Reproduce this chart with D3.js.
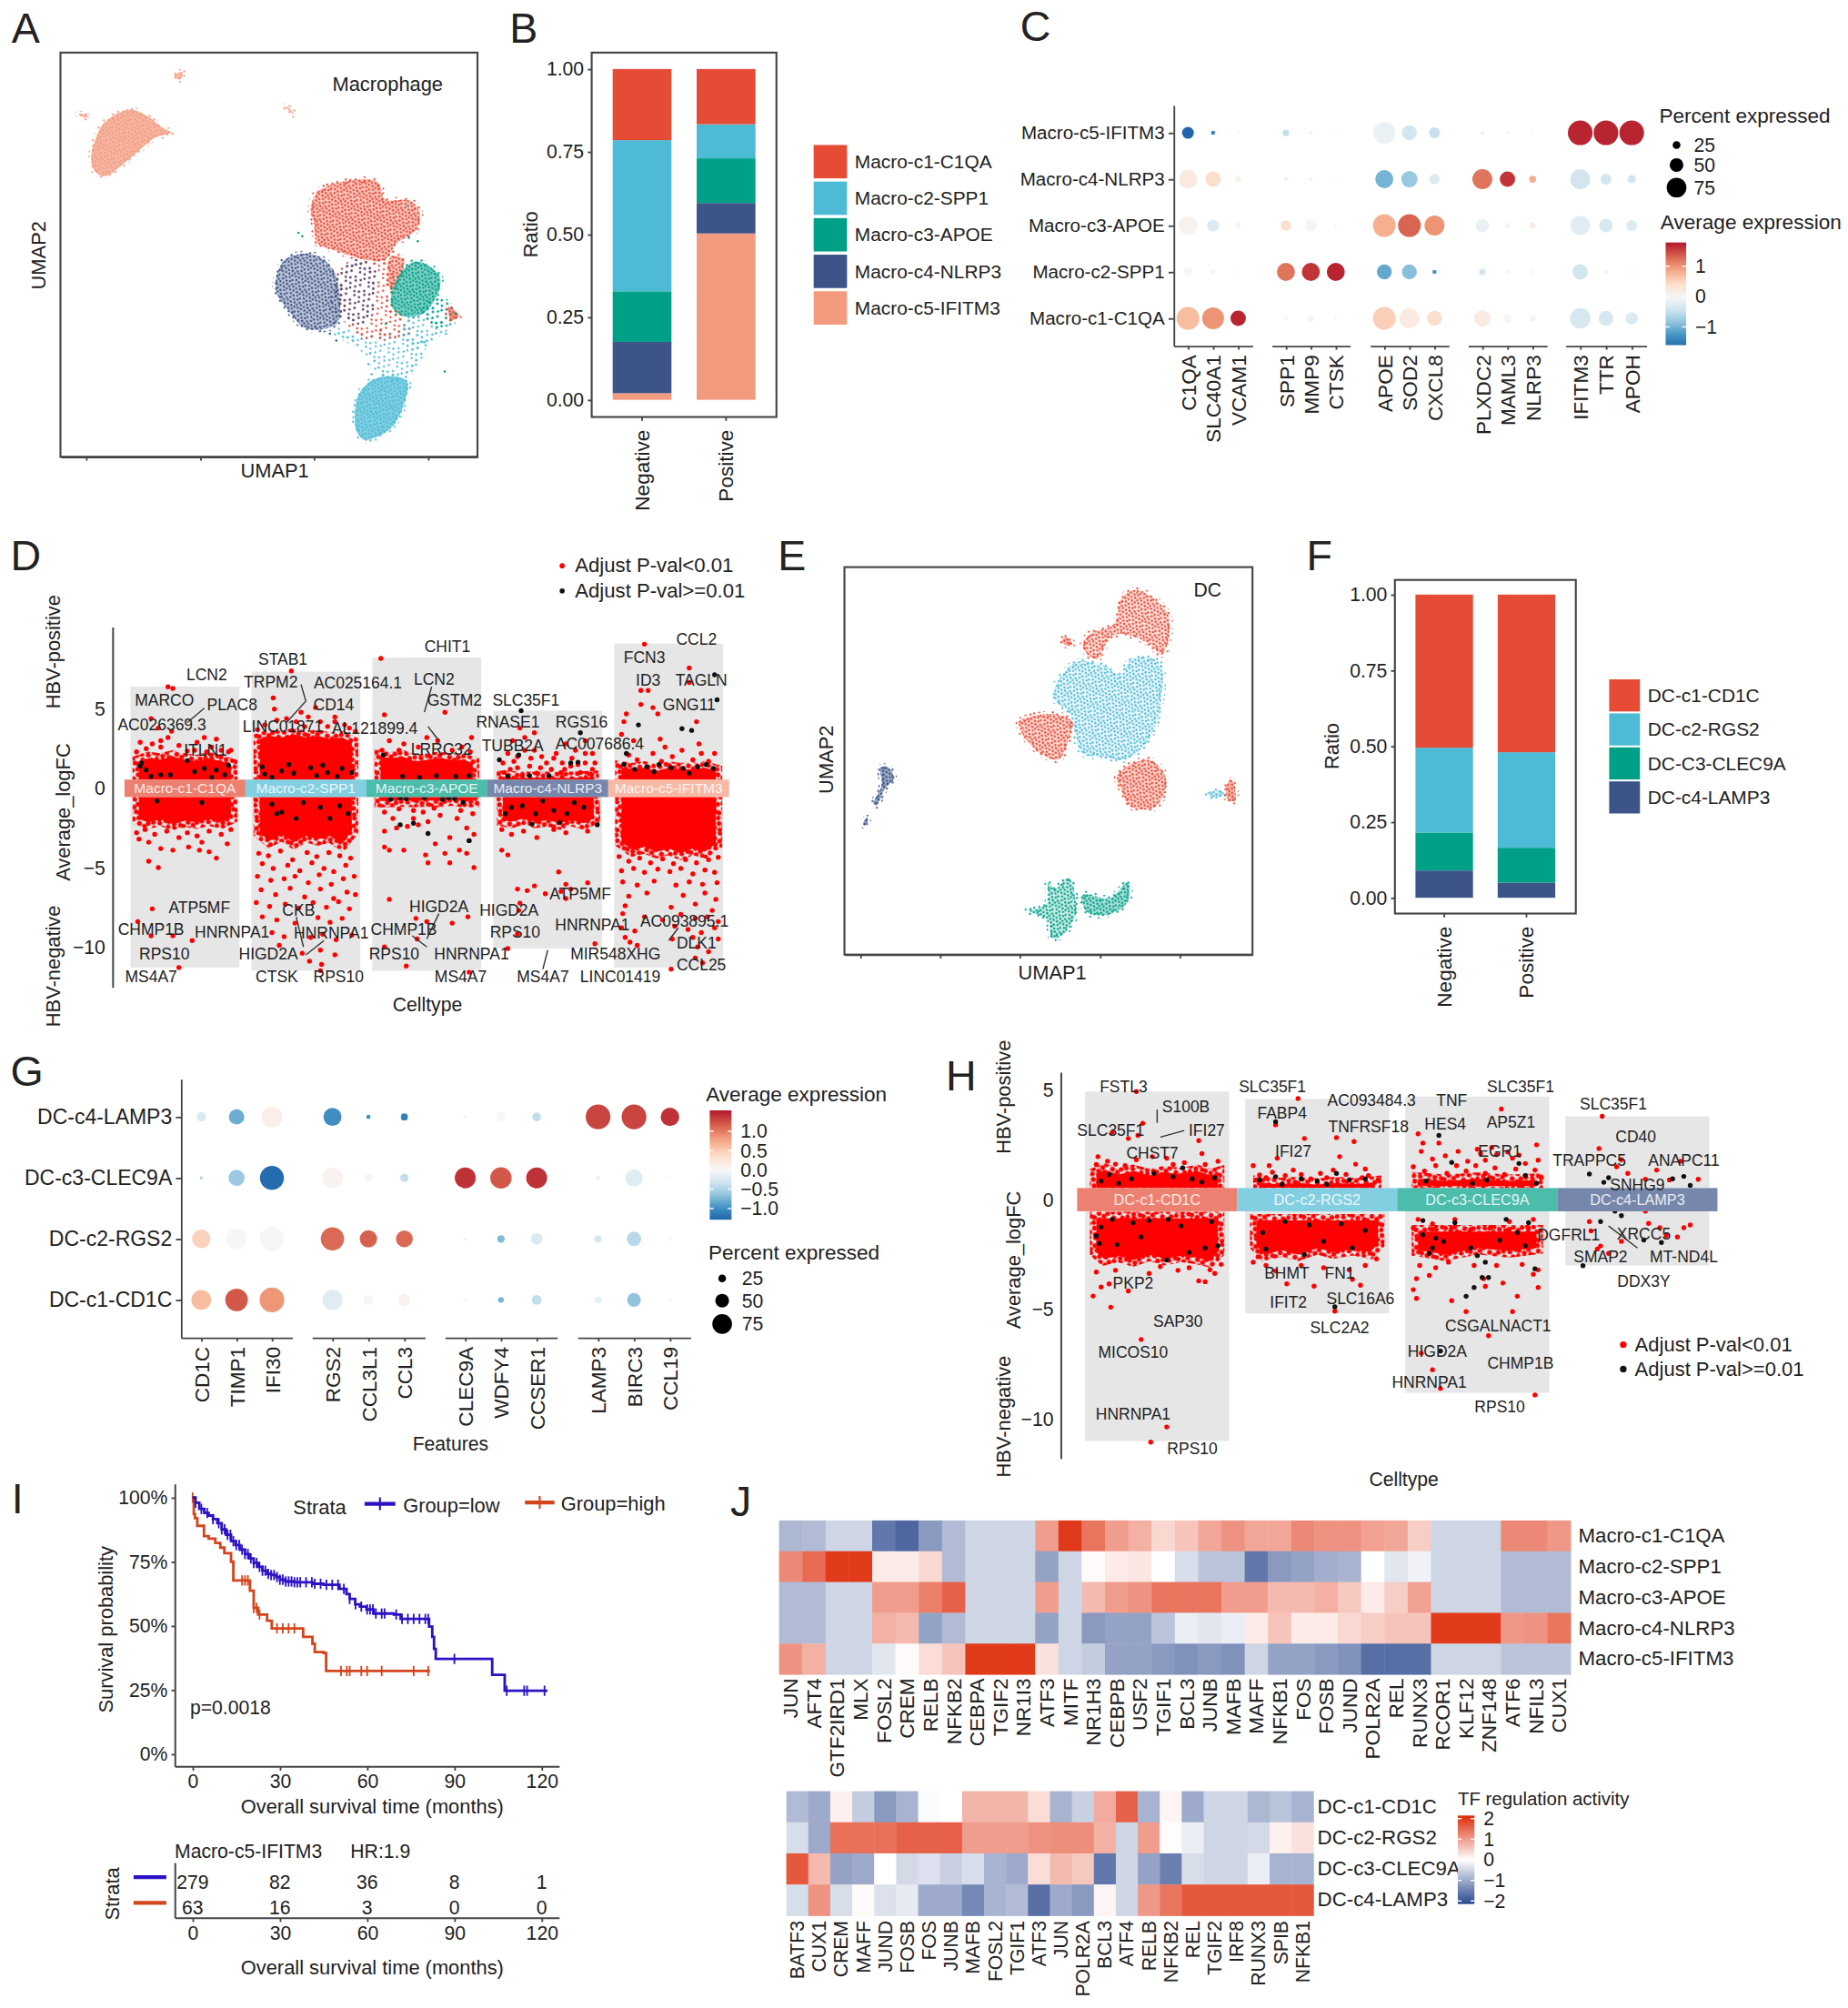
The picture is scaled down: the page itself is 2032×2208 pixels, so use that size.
<!DOCTYPE html>
<html>
<head>
<meta charset="utf-8">
<script src="https://cdn.jsdelivr.net/npm/d3@7"></script>
<style>
  body { margin: 0; background: #fff; }
  svg text { font-family: "Liberation Sans", Arial, sans-serif; fill: #222; }
</style>
</head>
<body>
<div id="fig"></div>
<script>
// ---------- shared data ----------
var npg = ["#E64B35", "#4DBBD5", "#00A087", "#3C5488", "#F39B7F"];
var macroTypes = ["Macro-c1-C1QA", "Macro-c2-SPP1", "Macro-c3-APOE", "Macro-c4-NLRP3", "Macro-c5-IFITM3"];
var dcTypes = ["DC-c1-CD1C", "DC-c2-RGS2", "DC-c3-CLEC9A", "DC-c4-LAMP3"];
var dcLegend = ["DC-c1-CD1C", "DC-c2-RGS2", "DC-C3-CLEC9A", "DC-c4-LAMP3"];

// B / F stacked ratios (order c1..cN)
var macroNeg = [0.215, 0.457, 0.153, 0.155, 0.02];
var macroPos = [0.167, 0.103, 0.135, 0.092, 0.503];
var dcNeg = [0.505, 0.28, 0.125, 0.09];
var dcPos = [0.52, 0.315, 0.115, 0.05];

// A: UMAP outlines, axis is unitless so values are read on the panel's own grid
var aRegionCluster = [4, 4, 4, 4, 0, 0, 3, 2, 1, 1, 0, 3, 1, 2, 0];
var aRegionSparse = [0, 0, 0, 0, 0, 0, 0, 0, 1, 0, 1, 1, 1, 1, 0];
var aRegionTint = [.72, .6, .6, .6, .32, .3, .34, .5, 0, .7, 0, 0, 0, 0, .5];
var aRegions = [
  [[15,51],[14.3,47],[15,41],[16.5,36],[20.5,32.5],[23.5,35],[25.5,38],[26.8,39.2],[24,41],[21.5,45],[19,49],[16.5,52.2]],
  [[12.2,33.8],[13.2,33.8],[14,34.8],[13,34.6]],
  [[27.2,22.5],[28.5,21.2],[28.2,23.5]],
  [[44.5,31.5],[46,34],[45.2,32]],
  [[48.5,62],[49.5,57],[53,54],[59,54],[60,59],[64,59.5],[65.5,63],[65,68],[62,72],[60,77],[57,77],[52,74],[49.5,72],[49,66]],
  [[61,76],[63,77],[62,84],[61,86],[60.5,82]],
  [[43,85.5],[44.5,77],[49,75.5],[52,80],[53,87],[52.5,96],[48,97.5],[45,92]],
  [[61,90],[62.5,81],[65,77.5],[68.5,81.5],[68.5,86],[66,93],[62.5,93.5]],
  [[52,98],[58,100],[64,98.5],[66,102],[64,110],[61,113],[59,110],[57,104]],
  [[56,129],[55.5,127],[56,117],[59,112],[63.5,113],[63,120],[61,127],[57,130.5]],
  [[53,88],[54,79],[61,79],[60.5,90],[64,98],[56,99]],
  [[52,92],[55,78],[58,80],[57,95]],
  [[63,96],[69,91],[71,94],[67,101],[65,104]],
  [[66,92],[69,89],[71,94],[68,96]],
  [[70,91],[71.6,93.5],[70.4,95]]
];
var aStrayX = [46.6,47.2,63.8,65.2,63.5,69.4,57.5,58,60.2,59.4,51.5,52.5,69.6,71,68.2,66.2];
var aStrayY = [69,70,70.5,71.5,61,110.2,108,111,96,98,99,101,99,93,97,101.5];
var aStrayC = [2,2,2,2,1,2,1,1,2,0,3,3,1,2,2,1];

// E: UMAP outlines
var eRegionCluster = [0, 0, 1, 0, 0, 3, 3, 1, 0, 2, 2];
var eRegionTint = [.18, .4, .1, .22, .25, .5, .5, .2, .4, .2, .34];
var eRegions = [
  [[51.5,20],[53.5,17],[56.5,20],[58.5,26],[57.5,37.5],[55.5,34],[52,31],[50,32],[48,39],[46,35],[47,31],[50.5,28]],
  [[43.5,32],[44.5,34],[44,34.8],[43,33.5]],
  [[42,48],[45,40],[49,41],[51.5,44],[53,39],[57,40],[57,56],[55,66],[52,71],[49,70],[46,69],[44,56],[42,52]],
  [[36.8,59],[42,56.5],[44.5,59],[44,64],[42.5,71],[40,69],[38,65]],
  [[51,76],[55.5,71],[58,77],[56.5,86],[53,86],[51.5,80]],
  [[16.8,73.5],[18,73.5],[18.7,77],[17.5,80],[16.2,85.5],[15.8,85],[17,79]],
  [[14.3,91.5],[14.8,89.5],[15,90],[14.5,92]],
  [[64,81.5],[66,81],[66.5,82],[64.8,83]],
  [[66.8,79],[67.5,77.5],[68,84],[67,83.8]],
  [[38,119],[39.5,118.5],[41,116],[41,110],[42,112],[44,108.5],[45,116],[45,120],[43,127],[41.5,127.5],[41,122]],
  [[46,114],[50,115],[52.5,110],[52.5,116],[50,120],[47,120],[46,117]]
];

// C: dot plot
var cRows = ["Macro-c5-IFITM3", "Macro-c4-NLRP3", "Macro-c3-APOE", "Macro-c2-SPP1", "Macro-c1-C1QA"];
var cGenes = [["C1QA", "SLC40A1", "VCAM1"], ["SPP1", "MMP9", "CTSK"], ["APOE", "SOD2", "CXCL8"], ["PLXDC2", "MAML3", "NLRP3"], ["IFITM3", "TTR", "APOH"]];
var cPct = [
  [42,10,6, 20,8,3, 84,55,38, 7,5,5, 96,96,96],
  [70,57,20, 8,10,3, 68,61,36, 76,57,22, 76,38,27],
  [70,42,15, 36,42,6, 88,88,76, 50,15,20, 74,50,38],
  [30,15,6, 68,68,68, 55,55,10, 20,8,6, 57,10,5],
  [88,84,57, 10,22,6, 88,76,55, 61,30,22, 78,55,44]
];
var cExpr = [
  [-1.7,-1.4,-0.05, -0.5,-0.1,-0.05, -0.15,-0.4,-0.5, -0.2,-0.05,-0.05, 1.7,1.7,1.7],
  [0.2,0.4,0.1, -0.2,-0.05,0, -1.0,-0.8,-0.3, 1.2,1.6,0.8, -0.4,-0.4,-0.4],
  [0.1,-0.3,-0.05, 0.4,0.05,0, 0.8,1.3,1.0, -0.15,-0.05,0.15, -0.25,-0.35,-0.3],
  [-0.02,-0.02,0, 1.2,1.6,1.7, -1.1,-0.9,-1.3, -0.4,-0.05,-0.05, -0.4,-0.03,-0.03],
  [0.7,1.0,1.7, 0.02,-0.05,0, 0.55,0.2,0.4, 0.2,0.02,-0.05, -0.35,-0.35,-0.3]
];

// G: dot plot
var gRows = ["DC-c4-LAMP3", "DC-c3-CLEC9A", "DC-c2-RGS2", "DC-c1-CD1C"];
var gGenes = [["CD1C", "TIMP1", "IFI30"], ["RGS2", "CCL3L1", "CCL3"], ["CLEC9A", "WDFY4", "CCSER1"], ["LAMP3", "BIRC3", "CCL19"]];
var gPct = [
  [31,57,80, 68,10,22, 8,35,29, 96,96,70],
  [5,60,93, 80,22,27, 80,82,80, 10,65,5],
  [70,80,95, 90,65,63, 8,24,41, 22,53,10],
  [75,87,96, 78,35,41, 8,17,33, 22,50,5]
];
var gExpr = [
  [-0.25,-0.8,0.12, -1.0,-1.0,-1.1, -0.03,0.0,-0.4, 1.3,1.3,1.4],
  [-0.5,-0.6,-1.25, 0.05,-0.05,-0.4, 1.4,1.2,1.4, -0.1,-0.2,0.0],
  [0.45,0.02,0.02, 1.1,1.15,1.1, -0.05,-0.7,-0.25, -0.3,-0.45,-0.02],
  [0.6,1.2,0.85, -0.2,0.03,0.08, -0.02,-0.75,-0.4, -0.15,-0.65,-0.02]
];

// D: volcano, points are [offset inside cluster, logFC]
var dGrayTop = [6.41, 7.36, 8.24, 4.9, 9.13];
var dGrayBottom = [-11.3, -11.5, -11.5, -10.1, -11.3];
var dBandUp = [
  [[-.38,1.7],[-.3,1.9],[-.2,1.8],[-.1,2.0],[0,1.8],[.1,1.7],[.2,1.9],[.3,1.7],[.38,1.5]],
  [[-.38,3.1],[-.3,3.3],[-.2,3.2],[-.1,3.4],[0,3.2],[.1,3.3],[.2,3.1],[.3,3.2],[.38,2.9]],
  [[-.38,2.0],[-.3,1.9],[-.2,2.0],[-.1,1.7],[0,1.8],[.1,1.9],[.2,1.8],[.3,1.8],[.38,1.6]],
  [[-.37,.7],[-.2,.65],[0,.65],[.2,.65],[.37,.7]],
  [[-.39,1.3],[-.3,1.2],[-.2,1.3],[-.1,1.1],[0,1.3],[.1,1.2],[.2,1.2],[.3,1.3],[.39,1.1]]
];
var dBandDown = [
  [[-.38,-1.95],[-.3,-2.15],[-.2,-1.95],[-.1,-2.25],[0,-2.05],[.1,-2.15],[.2,-1.95],[.3,-2.15],[.38,-1.85]],
  [[-.38,-2.8],[-.3,-3.3],[-.2,-2.9],[-.1,-3.4],[0,-3],[.1,-3.2],[.2,-3],[.3,-3.5],[.38,-2.7]],
  [[-.38,-.8],[-.3,-.8],[-.2,-.75],[-.1,-.8],[0,-.75],[.1,-.8],[.2,-.7],[.3,-.8],[.38,-.8]],
  [[-.37,-2],[-.3,-2.1],[-.2,-1.9],[-.1,-2.1],[0,-2],[.1,-2.2],[.2,-2],[.3,-2.2],[.38,-1.9]],
  [[-.39,-3.4],[-.3,-3.9],[-.2,-3.7],[-.1,-4],[0,-3.8],[.1,-4.1],[.2,-3.8],[.3,-4],[.39,-3.5]]
];
var dSig = [
  [[-.14,6.4],[-.1,6.3],[-.28,4.4],[-.11,3.6],[-.14,3.2],[-.22,3.8],[-.37,2.9],[-.2,3.0],[.16,3.2],[.26,3.1],[.38,2.4],[.36,2.3],[-.32,2.5],[-.2,2.6],[.08,2.4],[-.05,2.7],[.1,2.9],[.22,2.6],[-.4,2.3],[.3,2.4],[-.27,2.8],[.02,2.35],[.18,2.3],
   [-.38,-3.2],[-.3,-3.4],[-.2,-3.8],[-.1,-3.9],[.03,-3.7],[.12,-3.9],[.2,-4.0],[.26,-4.4],[.35,-3.5],[-.05,-3.1],[.1,-3.0],[-.25,-2.9],[.3,-2.9],[-.3,-4.6],[-.22,-5.0],[-.27,-7.6],[-.39,-8.4],[-.28,-9.3],[-.1,-9.3],[.06,-9.6],[-.05,-11.3],[-.4,-2.8],[-.15,-2.7],[.02,-2.8],[.2,-2.7],[.38,-2.6],[.14,-3.4],[-.33,-2.6]],
  [[-.12,7.4],[-.27,5.7],[.24,4.5],[-.26,5.0],[-.04,4.8],[.08,5.1],[.24,4.2],[-.16,4.4],[.32,4.0],[.12,4.2],[-.34,4.0],[-.08,4.2],[.02,4.5],[.36,3.8],[-.24,4.3],[-.4,3.7],[.18,3.9],[.41,3.6],[-.01,3.9],
   [-.39,-4.1],[-.31,-4.25],[-.21,-3.95],[-.11,-4.5],[.01,-4.05],[.09,-4.3],[.19,-4.05],[.28,-4.25],[.37,-4.4],[-.36,-4.75],[-.27,-5.05],[-.15,-4.85],[-.05,-5.2],[.05,-4.7],[.15,-5.05],[.23,-5.25],[.33,-4.85],[-.4,-5.55],[-.29,-5.8],[-.18,-5.7],[-.09,-5.55],[.02,-5.95],[.11,-5.45],[.21,-6.05],[.31,-5.7],[.4,-5.55],
   [-.37,-6.4],[-.25,-6.7],[-.13,-6.3],[-.01,-6.85],[.12,-6.35],[.23,-6.95],[.34,-6.55],[.41,-6.7],[-.41,-7.2],[-.3,-7.45],[-.17,-7.3],[-.06,-7.55],[.06,-7.2],[.17,-7.5],[.27,-7.15],[.36,-7.6],[-.36,-8.1],[-.24,-8.3],[-.09,-8.5],[.1,-8.15],[.2,-8.45],[.3,-8.2],[-.28,-9.1],[-.18,-9.35],[.04,-9.4],[.14,-9.2],[.25,-9.55],[.38,-9.25],[-.03,-10.4],[.12,-10.2],[.24,-10.5],[.13,-11.1],[.12,-11.5],[.03,-10.9],[-.22,-9.9]],
  [[-.38,8.19],[-.35,4.64],[.15,4.79],[0,3.2],[.37,3.2],[-.31,3.0],[-.19,2.8],[-.07,2.6],[.09,3],[.21,2.4],[.29,2.6],[-.37,2.4],[-.23,2.4],[.36,2.3],
   [-.35,-2.7],[-.31,-3.9],[-.35,-3.7],[-.25,-2.5],[-.19,-3.9],[-.11,-1.9],[-.03,-1.5],[-.07,-2.3],[.01,-2.1],[.07,-3.5],[.11,-1.7],[.19,-3.1],[.15,-4.1],[.19,-4.7],[.01,-4.7],[-.01,-4.2],[.33,-2.5],[.35,-3.3],[.33,-4.1],[.39,-5],[.27,-3.9],[.25,-1.9],[-.23,-1.3],[-.35,-1.5],[.39,-2.9],[-.11,-1.4],[.06,-1.25],[.28,-1.4],[.38,-1.6],[-.28,-1.9],[-.16,-2.4],
   [-.31,-7],[-.09,-8.2],[.21,-8.5],[.34,-8.1],[-.08,-9.5],[-.35,-10],[-.17,-11.2],[0,-8.4],[.35,-11.6]],
  [[-.11,3.5],[-.23,3.8],[-.19,3.2],[-.29,3],[-.11,2.4],[-.33,2.2],[-.25,2],[-.05,2],[.07,2.2],[.15,2.8],[.23,2.4],[.31,3],[.37,2.2],[.39,1.6],[.31,1.6],[.19,1.4],[.03,1.2],[-.15,1.4],[-.31,1.2],[-.33,.8],[-.21,.8],[-.09,.95],[.11,1],[.27,1],[.35,.9],[-.19,2.4],[-.01,1.6],[-.25,1.3],[.2,1.9],[-.37,1.6],[.14,1.2],[.31,2.2],[-.28,1.7],[-.14,1.9],[.05,1.9],[.25,1.5],[.37,1.2],[-.06,1.3],[.12,1.6],[-.36,1.0],
   [-.38,-3.9],[-.33,-4.2],[-.3,-2.9],[-.09,-3.1],[.15,-2.8],[-.38,-2.6],[.05,-2.6],[.33,-2.7],[-.2,-2.7],[-.25,-6.35],[-.11,-6.15],[-.17,-6.45],[-.02,-6.65],[.09,-5.27],[.15,-6.05],[.15,-6.95],[.19,-6.35],[.33,-5.96],[-.23,-7.24],[-.33,-10.1],[.39,-9.8],[-.25,-9.2],[-.24,-7.7],[.11,-6.5]],
  [[-.2,9.09],[.17,7.59],[.17,6.67],[-.23,6.17],[-.17,6.17],[-.23,5.29],[-.13,5.09],[-.09,4.69],[-.35,4.69],[-.37,4.2],[.23,4.2],[-.39,3.4],[-.07,3.1],[.25,2.8],[-.29,3],[-.03,2.6],[.38,2.2],[.03,2],[-.33,2.1],[-.13,2.2],[.27,2.2],[.11,2.4],[.2,1.8],[-.26,1.8],[.33,1.7],[-.06,1.7],
   [-.41,-4.3],[-.33,-4.6],[-.24,-4.4],[-.15,-4.7],[-.05,-4.45],[.04,-4.75],[.14,-4.5],[.23,-4.7],[.33,-4.5],[.41,-4.35],[-.39,-5.2],[-.29,-5.05],[-.2,-5.3],[-.09,-5.1],[.01,-5.25],[.1,-5.05],[.2,-5.4],[.3,-5.15],[.38,-5.3],[-.38,-5.9],[-.26,-6.1],[-.12,-5.85],[.06,-6.1],[.17,-5.9],[.28,-6.05],[.4,-5.95],[-.33,-6.8],[-.18,-6.6],[.12,-6.75],[.3,-6.6],[.39,-7],[-.36,-7.4],[.02,-7.5],[.22,-7.3],[.36,-7.7],
   [-.38,-7.9],[-.2,-8.1],[-.05,-8.3],[.1,-7.95],[.22,-8.2],[.32,-8.1],[.41,-8.4],[-.39,-8.8],[-.28,-9.0],[.05,-8.7],[.16,-8.9],[.27,-9.1],[.38,-8.8],[-.36,-9.4],[-.32,-9.7],[-.26,-9.9],[.03,-9.5],[.2,-9.4],[.41,-9.5],[.24,-10.0],[.33,-10.3],[.22,-10.7],[.02,-11.4],[.28,-11.0]]
];
var dNs = [
  [[-.37,1.4],[-.36,1.6],[-.2,.85],[.16,1.25],[.26,1.15],[.36,1.45],[-.32,1.15],[-.12,.85],[.08,1.05],[.02,1.75],[-.23,-.8],[.14,-.9],[-.28,.75],[.33,.85],[.22,.7]],
  [[-.34,.9],[-.2,1.1],[-.1,.95],[.04,1.3],[.18,1.0],[.3,1.25],[.38,1.0],[.09,.8],[-.28,.7],[-.28,-1.0],[-.2,-1.5],[-.02,-.9],[.12,-1.2],[.28,-1.1],[.35,-1.6],[-.24,-1.6],[-.14,1.5],[.14,1.45],[.26,.75],[-.36,1.35],[-.08,-1.9],[.2,-1.9]],
  [[-.36,2.1],[-.2,.75],[-.06,.7],[.08,.8],[.24,.75],[.35,.8],[-.22,-.6],[-.17,-.65],[-.02,-.6],[.13,-.7],[.18,-.6],[.23,-.65],[-.22,-2.3],[-.11,-2.2],[.01,-2.85],[.35,-3.3],[.3,-.9],[-.3,-.7]],
  [[-.22,4.9],[.27,3.5],[-.4,1.8],[-.24,2.1],[-.15,.8],[.01,.8],[.19,1.6],[.25,1.65],[-.33,.75],[-.21,-1.1],[-.1,-1.6],[-.35,-1.6],[.05,-1.4],[.16,-1.6],[.41,-2.3],[.1,-2.15],[-.13,-2.25],[-.3,-1.2],[.3,-1.2],[.22,-.9],[-.04,-.8]],
  [[.38,7.16],[-.25,4],[.11,3.76],[.19,3.65],[.4,5.58],[-.35,2.2],[-.37,1.5],[-.28,1.2],[-.18,1.35],[-.08,1.5],[.02,1.3],[.12,1.25],[.24,1.35],[.31,1.5],[.37,1.25],[-.12,1.05],[.17,.95]]
];
var dLabels = ["LCN2","MARCO","PLAC8","AC026369.3","ITLN1","STAB1","TRPM2","AC025164.1","CD14","LINC01871","AL121899.4","CHIT1","LCN2","GSTM2","LRRC32","SLC35F1","RNASE1","RGS16","TUBB2A","AC007686.4","CCL2","FCN3","ID3","TAGLN","GNG11","ATP5MF","CHMP1B","HNRNPA1","RPS10","MS4A7","CKB","HNRNPA1","HIGD2A","CTSK","RPS10","HIGD2A","CHMP1B","RPS10","HNRNPA1","MS4A7","HIGD2A","RPS10","ATP5MF","HNRNPA1","MS4A7","MIR548XHG","LINC01419","AC093895.1","DLK1","CCL25"];
var dLabelX = [.18,-.17,.39,-.19,.17,.81,.71,1.43,1.23,.81,1.57,2.17,2.06,2.23,2.12,2.82,2.67,3.28,2.71,3.43,4.23,3.8,3.83,4.27,4.17,.12,-.28,.39,-.17,-.28,.94,1.21,.69,.76,1.27,2.1,1.81,1.73,2.37,2.28,2.68,2.73,3.27,3.37,2.96,3.56,3.6,4.13,4.23,4.27];
var dLabelY = [7.16,5.54,5.25,4,2.39,8.15,6.69,6.67,5.25,3.87,3.81,8.93,6.86,5.54,2.47,5.58,4.16,4.2,2.68,2.82,9.43,8.28,6.8,6.8,5.29,-7.5,-8.88,-9.07,-10.45,-11.87,-7.67,-9.11,-10.45,-11.87,-11.87,-7.44,-8.88,-10.45,-10.45,-11.87,-7.67,-9.07,-6.65,-8.62,-11.87,-10.45,-11.87,-8.38,-9.76,-11.12];
var dConnectors = [
  [[.16,5.05],[.02,4.15]], [[.96,6.55],[1.0,5.5],[.84,4.15]], [[2.04,6.4],[1.98,4.8]], [[2.01,3.9],[2.1,3.0]],
  [[.92,-8.1],[.98,-10.0]], [[1.15,-9.6],[1.0,-10.5]], [[2.1,-7.9],[2.0,-9.5]], [[1.88,-9.3],[2.0,-10.0]],
  [[3.0,-10.2],[2.96,-11.4]], [[4.08,-8.8],[4.0,-9.6]]
];

// H: volcano, points are [position on the cluster axis, logFC]
var hGrayTop = [4.93, 4.59, 4.7, 3.8];
var hGrayBottom = [-11.0, -5.18, -8.8, -3.0];
var hBandUp = [
  [[-.38,1.2],[-.33,1.35],[-.24,1.15],[-.15,1.3],[-.05,1.1],[.05,1.25],[.15,1.15],[.25,1.3],[.33,1.1],[.38,1.2]],
  [[-.36,.78],[-.25,.7],[-.12,.75],[0,.68],[.12,.75],[.25,.7],[.36,.78]],
  [[-.37,.95],[-.2,.85],[0,.95],[.2,.85],[.37,.9]]
];
var hBandDown = [
  [[-.38,-2.4],[-.33,-2.7],[-.24,-2.55],[-.15,-2.75],[-.05,-2.5],[.05,-2.7],[.15,-2.55],[.25,-2.65],[.33,-2.8],[.38,-2.4]],
  [[-.38,-2.1],[-.33,-2.5],[-.22,-2.3],[-.12,-2.5],[0,-2.2],[.1,-2.4],[.22,-2.25],[.33,-2.4],[.38,-2]],
  [[-.37,-2.3],[-.2,-2.5],[0,-2.2],[.2,-2.35],[.37,-2.2]]
];
var hBandUpStart = [.55, .55, .62];
var hBandDownStart = [-.85, -.95, -1.45];
var hSig = [
  [[-.13,4.93],[-.09,3.48],[-.28,3.07],[-.18,2.79],[-.12,2.93],[.26,2.69],[-.37,1.96],[-.26,1.62],[.06,1.89],[.28,2.1],[.17,1.69],[.38,1.75],[-.13,1.82],[-.03,1.96],[-.31,1.75],[-.2,1.55],[.1,1.6],[.3,1.6],[-.38,1.6],
   [-.4,-4.39],[-.35,-3.98],[-.29,-4.9],[-.3,-3.84],[-.18,-4.16],[-.1,-6.37],[.06,-10.36],[-.04,-11.05],[.26,-3.7],[.3,-3.74],[.36,-3.36],[.13,-3.22],[-.05,-3.36],[-.26,-3.22],[-.38,-3.3],[.2,-3.1],[.33,-3.2],[.4,-2.95],[.02,-3.05]],
  [[.88,4.61],[.74,3.41],[1.12,2.83],[1.23,2.65],[.92,2.79],[.75,1.89],[1.14,1.96],[1.24,1.62],[.6,1.55],[.64,1.13],[.85,1.35],[.68,1.0],[.8,1.1],[.96,.95],[1.02,1.2],[1.1,1.35],[1.18,1.15],[1.3,1.4],[1.32,1.1],[1.38,.9],[.62,.9],[.72,1.25],[.9,1.15],[1.06,1.0],[1.28,1.0],[.7,1.55],
   [.81,-3.84],[.98,-3.94],[1.22,-3.63],[1.11,-5.08],[1.2,-3.2],[.68,-3.0],[.74,-3.25],[.6,-2.85],[.9,-3.0],[1.04,-3.1],[1.3,-3.0],[1.37,-2.7],[1.27,-3.9],[.63,-2.6]],
  [[2.15,4.13],[1.63,3.0],[1.66,2.58],[1.76,2.58],[2.37,2.5],[2.26,2.03],[2.09,2.38],[2.02,2.1],[2,2.3],[2.19,2.17],[2.22,1.89],[1.65,2.2],[1.72,1.85],[1.8,2.0],[1.88,2.2],[1.94,1.75],[2.05,1.8],[2.12,2.05],[2.3,1.65],[2.38,1.8],
   [1.6,1.5],[1.67,1.3],[1.74,1.55],[1.81,1.2],[1.87,1.55],[1.93,1.3],[1.99,1.55],[2.05,1.2],[2.11,1.45],[2.17,1.15],[2.24,1.4],[2.3,1.1],[2.36,1.35],[2.4,1.0],
   [1.63,-.9],[1.72,-1.1],[1.86,-.9],[2.2,-1.0],[2.35,-.9],[1.6,-1.3],[1.72,-1.35],[1.84,-1.3],[1.96,-1.35],[2.08,-1.3],[2.2,-1.35],[2.32,-1.3],
   [1.64,-3.0],[1.74,-3.1],[1.82,-2.85],[1.98,-3.0],[2.12,-3.0],[2.28,-2.95],[2.38,-3.2],[1.62,-3.6],[1.6,-4.1],[1.62,-4.5],[1.7,-3.45],[2.04,-3.6],[2.05,-3.95],[2.16,-3.8],[2.35,-3.4],[2.38,-4],[2.25,-4.4],[1.84,-4.6],[1.93,-5.1],[2.22,-5.1],[2.07,-6.2],[1.65,-7.0],[1.72,-7.75],[1.77,-8.6],[2.36,-8.9]],
  [[2.78,3.8],[2.76,2.33],[2.9,1.82],[3.27,1.75],[3.05,.93],[3.38,.93],[2.94,1.2],[2.87,1.5],[3.12,1.35],[3.2,.9],
   [3.05,-.52],[2.7,-1.0],[2.71,-1.42],[3.07,-1.08],[3.14,-1.28],[3.18,-1.63],[3.25,-1.7],[3.29,-1.28],[3.33,-1.15],[2.77,-2.11],[2.75,-2.25],[2.9,-1.9],[2.82,-2.45]]
];
var hNs = [
  [[-.3,1.15],[-.16,.95],[-.02,1.2],[.1,1.05],[.22,.95],[-.35,.85],[.36,1.0],[.16,1.45],[-.35,-1.25],[-.28,-.9],[-.15,-1.05],[-.05,-.95],[.07,-.9],[.15,-1.2],[.34,-1.0],[-.38,-1.65],[-.25,-2.05],[.06,-2.75],[.2,-2.4],[-.1,-1.7],[.38,-2.1],[-.36,-2.0],[.3,-2.2],[.28,.8],[-.24,.75]],
  [[.64,.9],[.74,1.05],[.9,.95],[1,.85],[1.12,1.2],[1.2,.9],[1.3,.95],[.8,-1.0],[.95,-1.15],[1.15,-1.1],[1.3,-1.4],[.68,-2.25],[.92,-2.5],[1.11,-4.88],[.74,3.55],[.78,.7],[1.06,.7],[.66,-1.5],[1.04,-1.9],[1.22,-2.2]],
  [[1.76,2.93],[1.84,1.7],[2.26,1.65],[1.97,.75],[1.68,.85],[2.06,.9],[2.3,1.1],[2.37,.75],[1.66,-.95],[1.86,-1.05],[1.74,-1.75],[1.72,-2.2],[1.79,-1.9],[2.18,-.9],[2.32,-1.05],[2.0,-2.55],[2.05,-2.85],[1.96,-2.2],[2.25,-1.5],[2.36,-3.15],[2.38,-.42],[1.98,-4],[2.03,-3.55],[2.07,-3.55],[1.93,-4.4],[1.77,-6.9],[1.66,-1.6],[1.7,-2.45],[2.14,-1.85],[2.3,-2.1]],
  [[2.7,1.17],[2.82,1.0],[2.79,.79],[3.29,1.06],[3.33,.65],[3.22,.95],[2.86,-.52],[2.9,-.73],[2.77,-1.0],[3.04,-1.84],[3.15,-1.95],[2.66,-3.01]]
];
var hLabels = ["FSTL3","S100B","SLC35F1","IFI27","CHST7","PKP2","SAP30","MICOS10","HNRNPA1","RPS10","SLC35F1","FABP4","AC093484.3","TNFRSF18","IFI27","BHMT","FN1","IFIT2","SLC16A6","SLC2A2","TNF","HES4","SLC35F1","AP5Z1","EGR1","CSGALNACT1","HIGD2A","CHMP1B","HNRNPA1","RPS10","SLC35F1","CD40","TRAPPC5","ANAPC11","SNHG9","DGFRL1","XRCC5","SMAP2","MT-ND4L","DDX3Y"];
var hLabelX = [-.21,.18,-.29,.31,-.03,-.15,.13,-.15,-.15,.22,.72,.78,1.34,1.32,.85,.81,1.14,.82,1.27,1.14,1.84,1.8,2.27,2.21,2.14,2.13,1.75,2.27,1.7,2.14,2.85,2.99,2.7,3.29,3,2.57,3.04,2.77,3.29,3.04];
var hLabelY = [5.14,4.24,3.18,3.18,2.13,-3.8,-5.54,-6.95,-9.78,-11.33,5.14,3.96,4.54,3.34,2.2,-3.36,-3.36,-4.67,-4.49,-5.84,4.54,3.45,5.14,3.55,2.2,-5.75,-6.91,-7.47,-8.33,-9.43,4.38,2.89,1.8,1.8,.69,-1.59,-1.56,-2.62,-2.62,-3.7];
var hConnectors = [[[0,4.1],[0,3.5]], [[.02,2.85],[.17,3.15]], [[2.82,-1.2],[3.0,-2.2]]];

// I: survival
var lowT = [0,1,2.3,4,5.5,7,8.5,10,11.5,13.2,14.8,16.3,18,19.4,21,22.5,24,25.6,27,28.8,30,31.9,35,41.2,45,50.5,52.9,54,55.9,57.5,59.8,62.2,69.2,71.5,80,81.3,82.4,83,83.6,103,107.3,122];
var lowS = [100,98,95.6,94,93,91.6,90,87.6,85.5,83,81.5,79.7,78,76.3,74.5,73,71.5,70.3,69.8,69,68,67.3,67,66.4,66,64.4,62.4,60.5,58.4,57.5,56.4,54.8,54.4,52.7,52.7,49.7,45.7,41,37.1,30.9,24.7,24.7];
var lowCensor = [1,3,5,7,9,10,11,12,13,14,15,16,17,18,19,20,21,22,23,24,25,26,27,28,29,30,31,32,33,34,35,36,37,39,41,42,44,46,48,50,52,54,56,58,60,61,62,63,65,66,70,72,74,76,78,80,81,90,108,114,115,121];
var highT = [0,.4,.8,1.6,3.9,5.5,7.8,9.5,10.9,13.2,14,18.7,19.7,21,22.5,25.6,27.2,37.3,38,41.2,42,45,45.9,81.6];
var highS = [100,93.6,92,89,85,84,82.3,80.5,78.3,75,67.7,67.7,63.7,57,54.4,52,49,49,45.7,43,39.8,39.4,32.4,32.4];
var highCensor = [0,17,18,19,21,22,23,29,31,33,35,51,53,54,58,60,65,76,81];
var riskTicks = [0, 30, 60, 90, 120];
var riskLow = [279, 82, 36, 8, 1];
var riskHigh = [63, 16, 3, 0, 0];

// J: TF heatmaps
var jTopGenes = ["JUN","AFT4","GTF2IRD1","MLX","FOSL2","CREM","RELB","NFKB2","CEBPA","TGIF2","NR1I3","ATF3","MITF","NR1H3","CEBPB","USF2","TGIF1","BCL3","JUNB","MAFB","MAFF","NFKB1","FOS","FOSB","JUND","POLR2A","REL","RUNX3","RCOR1","KLF12","ZNF148","ATF6","NFIL3","CUX1"];
var jTopValues = [
  [-.85,-.8,-.5,-.5,-1.6,-1.8,-1.2,-.8,-.5,-.5,-.5,1.0,2,1.4,1,.8,.4,.6,.9,1.1,.9,.9,1.2,1.1,1.1,.95,.9,.5,-.5,-.5,-.5,1.2,1.2,1.05],
  [1.2,1.5,2,2,.2,.2,.4,-.8,-.5,-.5,-.5,-1.1,-.5,.05,.2,.25,0,-.4,-.7,-.7,-1.6,-1.2,-1.1,-.95,-.9,0,-.3,-.15,-.5,-.5,-.5,-.8,-.8,-.8],
  [-.8,-.8,-.5,-.5,1,1,1.3,1.6,-.5,-.5,-.5,1,-.5,.7,1,1.1,1.4,1.4,1.4,1,1,.7,.7,.8,.55,.2,.5,.95,-.5,-.5,-.5,-.8,-.8,-.8],
  [-.8,-.8,-.5,-.5,.8,.7,-1.1,-.8,-.5,-.5,-.5,-1.1,-.5,-1.2,-1.1,-1.1,-.7,-.2,-.3,-.2,.2,.6,.2,.2,.4,.5,.6,.6,2,2,2,1.05,1.1,1.4],
  [1.1,.8,-.5,-.5,-.3,.05,.35,.6,2,2,2,.3,-.5,-.6,-1.1,-1.1,-1.2,-1.3,-1.2,-1.3,-.5,-1.1,-1.1,-1.2,-1.3,-1.7,-1.7,-1.7,-.5,-.5,-.5,-.7,-.7,-.7]
];
var jBottomGenes = ["BATF3","CUX1","CREM","MAFF","JUND","FOSB","FOS","JUNB","MAFB","FOSL2","TGIF1","ATF3","JUN","POLR2A","BCL3","ATF4","RELB","NFKB2","REL","TGIF2","IRF8","RUNX3","SPIB","NFKB1"];
var jBottomValues = [
  [-.8,-1,.15,-.6,-1.2,-.9,-.05,0,.75,.75,.75,.35,-.9,-.55,.85,1.6,-.9,.1,-1,-.5,-.5,-.85,-.7,-.9],
  [-.4,-1,1.45,1.45,1.45,1.6,1.6,1.6,1,1,1,1.1,1.15,1.15,.8,-.5,1,.03,-.2,-.5,-.5,-.45,.15,.3],
  [1.7,.7,-1.1,-1,0,-.45,-.35,-.55,-.4,-.9,-1,.35,.7,.55,-1.6,-.5,-1.1,-1.5,-.4,-.5,-.5,-.2,-.9,-.9],
  [-.4,1.1,-.4,.05,-.35,-.25,-1,-1,-1.4,-.9,-.8,-1.7,-1,-1.2,.1,-.5,1.05,1.4,1.7,1.7,1.7,1.7,1.7,1.7]
];

// ---------- page ----------
var svg = d3.select("#fig").append("svg")
  .attr("width", 2032).attr("height", 2208)
  .attr("viewBox", "0 0 1440 1565");
var defs = svg.append("defs");
var lineColor = "#444";

function label(x, y, s, size, anchor) {
  return svg.append("text").attr("x", x).attr("y", y).attr("dy", "0.35em")
    .attr("font-size", size).attr("text-anchor", anchor || "start").text(s);
}
function vlabel(x, y, s, size, anchor) {
  return svg.append("text").attr("transform", "translate(" + x + "," + y + ") rotate(-90)")
    .attr("dy", "0.35em").attr("font-size", size).attr("text-anchor", anchor || "middle").text(s);
}
function styleAxis(g, size) {
  g.selectAll("path,line").attr("stroke", lineColor).attr("stroke-width", 1.3);
  g.selectAll("text").attr("font-size", size).style("font-family", "Liberation Sans").attr("fill", "#222");
  return g;
}
function rotateTicks(g, gap) {
  g.selectAll("text").attr("transform", "rotate(-90)").attr("text-anchor", "end")
    .attr("x", -gap).attr("y", 0).attr("dy", "0.35em");
}

[["A",9,22],["B",397,22],["C",795,20],["D",8,433],["E",606,433],["F",1018,433],["G",8,835],["H",737,838],["I",9,1168],["J",569,1170]]
  .forEach(function(d) { label(d[1], d[2], d[0], 33).attr("fill", "#111"); });

// speckle fills for the UMAP clouds and the edges of the volcano bands
function speckle(id, size, angle, r, color, spots) {
  var p = defs.append("pattern").attr("id", id).attr("patternUnits", "userSpaceOnUse")
    .attr("width", size).attr("height", size).attr("patternTransform", "rotate(" + angle + ")");
  spots.forEach(function(s) { p.append("circle").attr("cx", s[0]).attr("cy", s[1]).attr("r", r).attr("fill", color); });
}
npg.forEach(function(c, i) {
  speckle("dense" + i, 11, 23, .9, c, [[.8,.7],[3.4,1.6],[6.2,.5],[9,1.9],[1.7,3.6],[4.9,4.1],[7.6,3.4],[10,5.2],[.6,6.4],[3.3,6.7],[6.3,6.3],[8.6,7.4],[1.9,9.1],[4.8,9.2],[7.4,9.6],[10.2,9.3]]);
  speckle("sparse" + i, 13, -31, .85, c, [[1.2,1.4],[5.6,.8],[9.4,2.5],[3.4,4.6],[7.9,5.2],[11.5,6.9],[1.4,7.6],[5.2,8.9],[9.1,10],[2.8,11.6]]);
});
speckle("redSpeck", 12, 17, 1.9, "#FF0000", [[1.5,2],[6.5,1],[10,4],[3.5,6],[7.8,7],[1,10],[5.5,10.5],[10.5,10]]);

function umapPanel(box, xd, yd, ticks, regions, clusters, sparseFlags, tints) {
  var x = d3.scaleLinear().domain(xd).range([box.x0, box.x1]);
  var y = d3.scaleLinear().domain(yd).range([box.y0, box.y1]);
  var line = d3.line().x(function(d) { return x(d[0]); }).y(function(d) { return y(d[1]); })
    .curve(d3.curveCatmullRomClosed.alpha(.5));
  regions.forEach(function(r, i) {
    var c = clusters[i], sp = sparseFlags && sparseFlags[i];
    if (tints[i] > 0) svg.append("path").attr("d", line(r)).attr("fill", npg[c]).attr("opacity", tints[i]);
    svg.append("path").attr("d", line(r)).attr("fill", "url(#" + (sp ? "sparse" : "dense") + c + ")")
      .attr("stroke", "url(#sparse" + c + ")").attr("stroke-width", 5);
  });
  svg.append("rect").attr("x", box.x0).attr("y", box.y0).attr("width", box.x1 - box.x0).attr("height", box.y1 - box.y0)
    .attr("fill", "none").attr("stroke", lineColor).attr("stroke-width", 1.5);
  var ax = svg.append("g").attr("transform", "translate(0," + box.y1 + ")")
    .call(d3.axisBottom(x).tickValues(ticks).tickFormat("").tickSize(3).tickSizeOuter(0));
  styleAxis(ax, 10);
  return { x: x, y: y };
}

// A
var aScales = umapPanel({x0:47, x1:372, y0:41, y1:356}, [9.5, 74.5], [15.5, 135.5], [13.5, 31.3, 49, 66.8],
  aRegions, aRegionCluster, aRegionSparse, aRegionTint);
svg.append("g").selectAll("circle").data(aStrayX).enter().append("circle")
  .attr("cx", function(d) { return aScales.x(d); })
  .attr("cy", function(d, i) { return aScales.y(aStrayY[i]); })
  .attr("r", .9).attr("fill", function(d, i) { return npg[aStrayC[i]]; });
label(302, 65.5, "Macrophage", 15.5, "middle");
label(214, 367, "UMAP1", 15.5, "middle");
vlabel(30, 199, "UMAP2", 15.5);

// E
umapPanel({x0:658, x1:976, y0:442, y1:744}, [11.6, 70.5], [9.7, 133], [13.9, 25.4, 36.9, 48.5, 60],
  eRegions, eRegionCluster, null, eRegionTint);
label(941, 460, "DC", 15, "middle");
label(820, 758, "UMAP1", 15.5, "middle");
vlabel(644, 592, "UMAP2", 15.5);

// stacked bars, B and F
function stackedBars(opt) {
  var table = opt.types.map(function(t, i) { return { type: t, Negative: opt.neg[i], Positive: opt.pos[i] }; });
  var groups = ["Negative", "Positive"];
  var rows = groups.map(function(g) {
    var r = { group: g };
    table.forEach(function(t) { r[t.type] = t[g]; });
    return r;
  });
  var x = d3.scaleBand().domain(groups).range([opt.x0, opt.x1]).paddingInner(.3).paddingOuter(.25);
  var y = d3.scaleLinear().domain([0, 1]).range([opt.y0v, opt.y1v]);
  var series = d3.stack().keys(opt.types.slice().reverse())(rows);
  svg.append("g").selectAll("g").data(series).enter().append("g")
    .attr("fill", function(s) { return npg[opt.types.indexOf(s.key)]; })
    .selectAll("rect").data(function(s) { return s; }).enter().append("rect")
    .attr("x", function(d) { return x(d.data.group); })
    .attr("width", x.bandwidth())
    .attr("y", function(d) { return y(d[1]); })
    .attr("height", function(d) { return y(d[0]) - y(d[1]); });
  svg.append("rect").attr("x", opt.x0).attr("y", opt.top).attr("width", opt.x1 - opt.x0).attr("height", opt.bottom - opt.top)
    .attr("fill", "none").attr("stroke", lineColor).attr("stroke-width", 1.5);
  var yAxis = svg.append("g").attr("transform", "translate(" + opt.x0 + ",0)")
    .call(d3.axisLeft(y).tickValues([0, .25, .5, .75, 1]).tickFormat(d3.format(".2f")).tickSize(3).tickSizeOuter(0));
  styleAxis(yAxis, 15); yAxis.select(".domain").remove();
  var xAxis = svg.append("g").attr("transform", "translate(0," + opt.bottom + ")")
    .call(d3.axisBottom(x).tickSize(3).tickSizeOuter(0));
  styleAxis(xAxis, 16); xAxis.select(".domain").remove();
  rotateTicks(xAxis, 10);
  vlabel(opt.ratioX, (opt.y0v + opt.y1v) / 2, "Ratio", 15.5);
  opt.types.forEach(function(t, i) {
    svg.append("rect").attr("x", opt.legendX).attr("y", opt.legendY + i * opt.legendStep - opt.legendSize / 2)
      .attr("width", opt.legendW).attr("height", opt.legendSize).attr("fill", npg[i]);
    label(opt.legendX + opt.legendW + 6, opt.legendY + i * opt.legendStep, opt.legendNames[i], 14.8);
  });
}
stackedBars({ types: macroTypes, legendNames: macroTypes, neg: macroNeg, pos: macroPos, x0: 461, x1: 605, y0v: 311.6, y1v: 53.8, top: 41, bottom: 325,
  ratioX: 413, legendX: 634, legendY: 126, legendStep: 28.5, legendW: 26, legendSize: 26 });
stackedBars({ types: dcTypes, legendNames: dcLegend, neg: dcNeg, pos: dcPos, x0: 1087, x1: 1228, y0v: 699.7, y1v: 463.4, top: 452, bottom: 712,
  ratioX: 1038, legendX: 1254, legendY: 542, legendStep: 26.5, legendW: 24, legendSize: 25 });

// dot plots, C and G
function rdbu(maxNeg, maxPos) {
  return d3.scaleLinear()
    .domain([maxNeg, maxNeg * .75, maxNeg * .5, maxNeg * .25, 0, maxPos * .25, maxPos * .5, maxPos * .75, maxPos])
    .range(["#2166AC", "#4393C3", "#92C5DE", "#D1E5F0", "#F7F7F7", "#FDDBC7", "#F4A582", "#D6604D", "#B2182B"]);
}
function dotPlot(opt) {
  var r = d3.scaleLinear().domain([0, 100]).range([.7, 10]);
  var color = rdbu(opt.colorMin, opt.colorMax);
  var y = d3.scalePoint().domain(opt.rows).range([opt.top, opt.bottom]).padding(opt.rowPad);
  var yAxis = svg.append("g").attr("transform", "translate(" + opt.facets[0][0] + ",0)")
    .call(d3.axisLeft(y).tickSize(4).tickSizeOuter(0));
  styleAxis(yAxis, opt.rowFont);
  var n = 0;
  opt.genes.forEach(function(gs, f) {
    var x = d3.scalePoint().domain(gs).range(opt.facets[f]).padding(.57);
    var ax = svg.append("g").attr("transform", "translate(0," + opt.bottom + ")")
      .call(d3.axisBottom(x).tickSize(3).tickSizeOuter(0));
    styleAxis(ax, 16); rotateTicks(ax, 7);
    gs.forEach(function(gene, gi) {
      var col = n + gi;
      svg.append("g").selectAll("circle").data(opt.rows).enter().append("circle")
        .attr("cx", x(gene))
        .attr("cy", function(d) { return y(d); })
        .attr("r", function(d, i) { return r(opt.pct[i][col]); })
        .attr("fill", function(d, i) { return color(opt.expr[i][col]); });
    });
    n += gs.length;
  });
  return { r: r, color: color };
}
function colorBar(id, x, y0, y1, w, lo, hi, ticks, tickFmt, color) {
  var grad = defs.append("linearGradient").attr("id", id).attr("x1", 0).attr("x2", 0).attr("y1", 1).attr("y2", 0);
  var sc = d3.scaleLinear().domain([lo, hi]).range([y0, y1]);
  d3.range(0, 1.001, .05).forEach(function(t) {
    grad.append("stop").attr("offset", t).attr("stop-color", color(lo + t * (hi - lo)));
  });
  svg.append("rect").attr("x", x).attr("y", y1).attr("width", w).attr("height", y0 - y1).attr("fill", "url(#" + id + ")");
  ticks.forEach(function(t) {
    svg.append("line").attr("x1", x).attr("x2", x + 3).attr("y1", sc(t)).attr("y2", sc(t)).attr("stroke", "#fff").attr("stroke-width", 1);
    svg.append("line").attr("x1", x + w - 3).attr("x2", x + w).attr("y1", sc(t)).attr("y2", sc(t)).attr("stroke", "#fff").attr("stroke-width", 1);
    label(x + w + 7, sc(t), tickFmt(t), 15);
  });
}
function sizeLegend(cx, ys, lx, r) {
  [25, 50, 75].forEach(function(p, i) {
    svg.append("circle").attr("cx", cx).attr("cy", ys[i]).attr("r", r(p)).attr("fill", "#000");
    label(lx, ys[i], String(p), 15);
  });
}
var minusFmt = function(f) { return function(t) { return f(t).replace("-", "\u2212"); }; };

var cScale = dotPlot({ rows: cRows, genes: cGenes, pct: cPct, expr: cExpr, top: 82, bottom: 269.6, rowPad: .595, rowFont: 14.6,
  facets: [[914.6,976],[991,1052],[1067.6,1129],[1144,1205.5],[1220,1283]], colorMin: -1.7, colorMax: 1.78 });
label(1293, 90, "Percent expressed", 16);
sizeLegend(1306.5, [113,128.6,146.2], 1320, cScale.r);
label(1294, 173, "Average expression", 16);
colorBar("cBar", 1298, 269, 189, 16, -1.6, 1.78, [-1,0,1], minusFmt(d3.format("d")), cScale.color);

var gScale = dotPlot({ rows: gRows, genes: gGenes, pct: gPct, expr: gExpr, top: 841, bottom: 1042.6, rowPad: .62, rowFont: 16.3,
  facets: [[141,227.5],[243,331],[346.6,434],[450,538]], colorMin: -1.29, colorMax: 1.54 });
label(351, 1125, "Features", 15, "middle");
label(550, 853, "Average expression", 16);
colorBar("gBar", 553, 950.6, 865.4, 17, -1.29, 1.54, [-1,-.5,0,.5,1], minusFmt(d3.format(".1f")), gScale.color);
label(552, 976, "Percent expressed", 16);
sizeLegend(562.7, [996.4,1013.7,1031.9], 578, gScale.r);

// volcano, D and H
function volcano(opt) {
  var x = d3.scaleLinear().domain([0, opt.types.length - 1]).range(opt.centers);
  var y = d3.scaleLinear().domain([0, 5]).range(opt.zeroAndFive);
  var pad = opt.barPad;
  svg.append("g").selectAll("rect").data(opt.types).enter().append("rect")
    .attr("x", function(d, i) { return x(i - .45); })
    .attr("width", x(.9) - x(0))
    .attr("y", function(d, i) { return y(opt.grayTop[i]); })
    .attr("height", function(d, i) { return y(opt.grayBottom[i]) - y(opt.grayTop[i]); })
    .attr("fill", "#E6E6E6");

  // the dense part of each cluster is a band with a speckled rim
  function drawBands(bands, starts) {
    bands.forEach(function(b, c) {
      var area = d3.area().x(function(d) { return x(c + d[0]); }).y0(y(starts[c])).y1(function(d) { return y(d[1]); });
      svg.append("path").attr("d", area(b)).attr("fill", "#FF0000")
        .attr("stroke", "url(#redSpeck)").attr("stroke-width", 10);
    });
  }
  drawBands(opt.bandUp, opt.upStart);
  drawBands(opt.bandDown, opt.downStart);

  var dots = function(list, color) {
    list.forEach(function(pts) {
      svg.append("g").selectAll("circle").data(pts).enter().append("circle")
        .attr("cx", function(d) { return x(d[0]); })
        .attr("cy", function(d) { return y(d[1]); })
        .attr("r", opt.dot).attr("fill", color);
    });
  };
  dots(opt.sig, "#FF0000");
  dots(opt.ns, "#111");

  // tile strip along zero
  var strip = svg.append("g");
  strip.selectAll("rect.base").data(opt.types).enter().append("rect").attr("class", "base")
    .attr("x", function(d, i) { return x(i - .5); }).attr("width", x(1) - x(0))
    .attr("y", y(pad)).attr("height", y(-pad) - y(pad)).attr("fill", "#fff");
  strip.selectAll("rect.tile").data(opt.types).enter().append("rect").attr("class", "tile")
    .attr("x", function(d, i) { return x(i - .5); }).attr("width", x(1) - x(0))
    .attr("y", y(pad)).attr("height", y(-pad) - y(pad))
    .attr("fill", function(d, i) { return npg[i]; }).attr("opacity", .7);
  svg.append("g").selectAll("text").data(opt.types).enter().append("text")
    .attr("x", function(d, i) { return x(i); }).attr("y", y(0)).attr("dy", "0.35em")
    .attr("text-anchor", "middle").attr("font-size", opt.stripFont).style("fill", "#fff").attr("opacity", .85).text(function(d) { return d; });

  var conn = d3.line().x(function(d) { return x(d[0]); }).y(function(d) { return y(d[1]); });
  svg.append("g").selectAll("path").data(opt.connectors).enter().append("path")
    .attr("d", conn).attr("fill", "none").attr("stroke", "#333").attr("stroke-width", 1);
  svg.append("g").selectAll("text").data(opt.labels).enter().append("text")
    .attr("x", function(d, i) { return x(opt.labelX[i]); })
    .attr("y", function(d, i) { return y(opt.labelY[i]); })
    .attr("dy", "0.35em").attr("text-anchor", "middle").attr("font-size", 12.4).attr("fill", "#222").text(function(d) { return d; });

  var ax = svg.append("g").attr("transform", "translate(" + opt.axisX + ",0)")
    .call(d3.axisLeft(y).tickValues(opt.ticks).tickFormat(minusFmt(d3.format("d"))).tickSize(0).tickPadding(6));
  styleAxis(ax, 15);
  ax.select(".domain").remove();
  svg.append("line").attr("x1", opt.axisX).attr("x2", opt.axisX).attr("y1", opt.axisTop).attr("y2", opt.axisBottom)
    .attr("stroke", lineColor).attr("stroke-width", 1.4);
}
function legendDot(x, y, r, color) {
  svg.append("circle").attr("cx", x).attr("cy", y).attr("r", r).attr("fill", color);
}
var dStarts = [0, 0, 0, 0, 0];
volcano({ types: macroTypes, centers: [144, 521], zeroAndFive: [614.4, 552.6], barPad: .55, dot: 1.9, stripFont: 11,
  grayTop: dGrayTop, grayBottom: dGrayBottom, bandUp: dBandUp, bandDown: dBandDown, upStart: dStarts, downStart: dStarts,
  sig: dSig.map(function(pts, c) { return pts.map(function(p) { return [c + p[0], p[1]]; }); }),
  ns: dNs.map(function(pts, c) { return pts.map(function(p) { return [c + p[0], p[1]]; }); }),
  labels: dLabels, labelX: dLabelX, labelY: dLabelY, connectors: dConnectors, ticks: [-10,-5,0,5], axisX: 88, axisTop: 489, axisBottom: 770 });
legendDot(438, 441, 2, "#FF0000");
legendDot(438, 460.5, 2, "#111");
label(448, 440.5, "Adjust P-val<0.01", 15.7);
label(448, 460, "Adjust P-val>=0.01", 15.7);
vlabel(41, 508, "HBV-positive", 15.5);
vlabel(49, 633, "Average_logFC", 15.5);
vlabel(41, 753, "HBV-negative", 15.5);
label(333, 783, "Celltype", 15, "middle");

volcano({ types: dcTypes, centers: [901.7, 1276], zeroAndFive: [935, 849.5], barPad: .53, dot: 1.9, stripFont: 11.5,
  grayTop: hGrayTop, grayBottom: hGrayBottom, bandUp: hBandUp, bandDown: hBandDown, upStart: hBandUpStart, downStart: hBandDownStart,
  sig: hSig, ns: hNs,
  labels: hLabels, labelX: hLabelX, labelY: hLabelY, connectors: hConnectors, ticks: [-10,-5,0,5], axisX: 827, axisTop: 836, axisBottom: 1137 });
legendDot(1265, 1048, 2.6, "#FF0000");
legendDot(1265, 1067, 2.6, "#111");
label(1274, 1048, "Adjust P-val<0.01", 15.6);
label(1274, 1067, "Adjust P-val>=0.01", 15.6);
vlabel(782, 855, "HBV-positive", 15.5);
vlabel(790, 982, "Average_logFC", 15.5);
vlabel(782, 1104, "HBV-negative", 15.5);
label(1094, 1153, "Celltype", 15, "middle");

// I: survival curves
var sx = d3.scaleLinear().domain([0, 120]).range([150, 422]);
var sy = d3.scaleLinear().domain([0, 100]).range([1367.1, 1167.2]);
var blue = "#2B12C4", orange = "#D4451D";
function curve(ts, ss, cens, color) {
  var pts = ts.map(function(t, i) { return [t, ss[i]]; });
  svg.append("path").attr("fill", "none").attr("stroke", color).attr("stroke-width", 2)
    .attr("d", d3.line().x(function(d) { return sx(d[0]); }).y(function(d) { return sy(d[1]); }).curve(d3.curveStepAfter)(pts));
  var at = d3.bisector(function(d) { return d; }).right;
  svg.append("g").selectAll("path").data(cens).enter().append("path")
    .attr("stroke", color).attr("stroke-width", 1.3)
    .attr("d", function(t) {
      var yy = sy(ss[Math.max(0, at(ts, t) - 1)]), xx = sx(t);
      return "M" + xx + "," + (yy - 4) + "V" + (yy + 4);
    });
}
curve(highT, highS, highCensor, orange);
curve(lowT, lowS, lowCensor, blue);
var sAxisY = svg.append("g").attr("transform", "translate(136.5,0)")
  .call(d3.axisLeft(sy).tickValues([0,25,50,75,100]).tickFormat(function(d) { return d + "%"; }).tickSize(3).tickSizeOuter(0));
styleAxis(sAxisY, 15); sAxisY.select(".domain").remove();
svg.append("line").attr("x1", 136.5).attr("x2", 136.5).attr("y1", 1157).attr("y2", 1377).attr("stroke", lineColor).attr("stroke-width", 1.4);
var sAxisX = svg.append("g").attr("transform", "translate(0,1377)")
  .call(d3.axisBottom(sx).tickValues(riskTicks).tickSize(3).tickSizeOuter(0));
styleAxis(sAxisX, 15); sAxisX.select(".domain").remove();
svg.append("line").attr("x1", 136.5).attr("x2", 436).attr("y1", 1377).attr("y2", 1377).attr("stroke", lineColor).attr("stroke-width", 1.4);
label(290, 1408, "Overall survival time (months)", 15.5, "middle");
vlabel(82, 1270, "Survival probability", 15.5);
label(148, 1331, "p=0.0018", 15);
label(249, 1175, "Strata", 15.5, "middle");
[[284,308,1172,blue,"Group=low",314],[409,432,1171,orange,"Group=high",437]].forEach(function(l) {
  svg.append("line").attr("x1", l[0]).attr("x2", l[1]).attr("y1", l[2]).attr("y2", l[2]).attr("stroke", l[3]).attr("stroke-width", 3);
  svg.append("line").attr("x1", (l[0]+l[1])/2).attr("x2", (l[0]+l[1])/2).attr("y1", l[2]-5).attr("y2", l[2]+5).attr("stroke", l[3]).attr("stroke-width", 1.5);
  label(l[5], l[2] + 1, l[4], 15.5);
});

// I: risk table
label(136, 1443, "Macro-c5-IFITM3", 15);
label(273, 1443, "HR:1.9", 15);
var rowsY = d3.scaleBand().domain(["low", "high"]).range([1457, 1497]);
[riskLow, riskHigh].forEach(function(vals, i) {
  svg.append("g").selectAll("text").data(vals).enter().append("text")
    .attr("x", function(d, k) { return sx(riskTicks[k]); })
    .attr("y", rowsY(i === 0 ? "low" : "high") + rowsY.bandwidth() / 2)
    .attr("dy", "0.35em").attr("text-anchor", "middle").attr("font-size", 15).text(function(d) { return d; });
  svg.append("line").attr("x1", 104).attr("x2", 129.5)
    .attr("y1", i === 0 ? 1463 : 1483).attr("y2", i === 0 ? 1463 : 1483)
    .attr("stroke", i === 0 ? blue : orange).attr("stroke-width", 3);
});
svg.append("line").attr("x1", 136.5).attr("x2", 136.5).attr("y1", 1452).attr("y2", 1495).attr("stroke", lineColor).attr("stroke-width", 1.4);
var rAxis = svg.append("g").attr("transform", "translate(0,1495)")
  .call(d3.axisBottom(sx).tickValues(riskTicks).tickSize(3).tickSizeOuter(0));
styleAxis(rAxis, 15); rAxis.select(".domain").remove();
svg.append("line").attr("x1", 136.5).attr("x2", 436).attr("y1", 1495).attr("y2", 1495).attr("stroke", lineColor).attr("stroke-width", 1.4);
label(290, 1533, "Overall survival time (months)", 15.5, "middle");
vlabel(87, 1476, "Strata", 15.5);

// J: heatmaps
var heatColor = d3.scaleLinear().domain([-2, 0, 2]).range(["#3B5596", "#FFFFFF", "#E03A1A"]);
function heatmap(genes, rows, values, x0, x1, y0, y1, gap, rowPad, colFont) {
  var x = d3.scaleBand().domain(genes).range([x0, x1]);
  var y = d3.scaleBand().domain(rows).range([y0, y1]);
  rows.forEach(function(r, i) {
    svg.append("g").selectAll("rect").data(genes).enter().append("rect")
      .attr("x", function(g) { return x(g); }).attr("y", y(r))
      .attr("width", x.bandwidth() + .3).attr("height", y.bandwidth() + .3)
      .attr("fill", function(g, k) { return heatColor(values[i][k]); });
  });
  var ay = svg.append("g").attr("transform", "translate(" + x1 + ",0)").call(d3.axisRight(y).tickSize(0).tickPadding(rowPad));
  styleAxis(ay, 15.8); ay.select(".domain").remove();
  var ax = svg.append("g").attr("transform", "translate(0," + y1 + ")").call(d3.axisBottom(x).tickSize(0));
  styleAxis(ax, colFont); ax.select(".domain").remove();
  rotateTicks(ax, gap);
}
heatmap(jTopGenes, macroTypes, jTopValues, 607, 1224, 1185, 1305, 3, 6, 16);
heatmap(jBottomGenes, dcTypes, jBottomValues, 612.7, 1023.6, 1396, 1493, 4, 3, 15);
label(1136, 1402, "TF regulation activity", 14.5);
colorBar("jBar", 1136, 1484, 1415, 13, -2.15, 2.15, [-2,-1,0,1,2], minusFmt(d3.format("d")), heatColor);
</script>
</body>
</html>
